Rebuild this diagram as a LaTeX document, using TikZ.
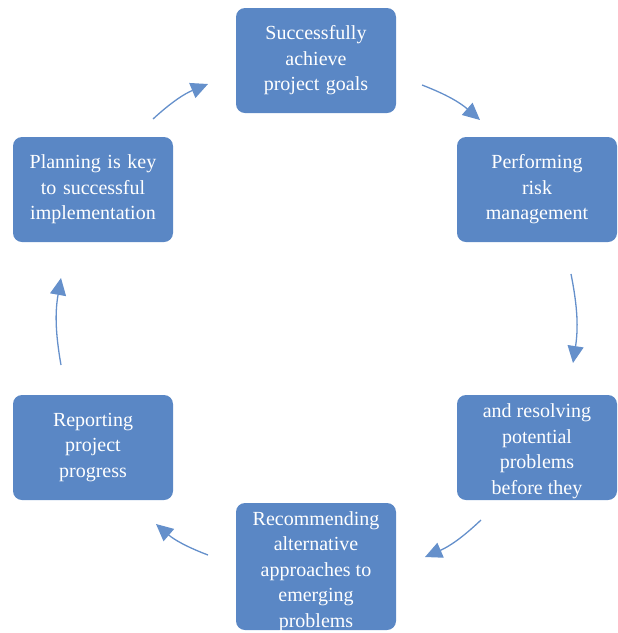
\documentclass[tikz,border=0pt]{standalone}
\usepackage{fontspec}
\setmainfont{Liberation Serif}
\usetikzlibrary{arrows.meta}
\definecolor{boxblue}{HTML}{5A87C5}
\definecolor{arrowblue}{HTML}{6590CB}
\begin{document}
\begin{tikzpicture}[x=1pt,y=-1pt,
  stage/.style={fill=boxblue, draw=none, rounded corners=9pt,
    minimum width=160pt, text width=150pt, align=center,
    text=white, inner sep=0pt,
    font=\fontsize{20}{25.5}\selectfont},
  flow/.style={draw=arrowblue, line width=1.3pt, bend left=10,
    -{Triangle[length=17pt,width=16pt]}}]
\useasboundingbox (0,0) rectangle (618,633);

% stages of the cycle
\node[stage, minimum height=105pt] (goals) at (316,60.5)
  {Successfully\\ achieve\\ project goals};
\node[stage, minimum height=105pt] (risk) at (537,189.5)
  {Performing\\ risk\\ management};
\node[stage, minimum height=105pt] (resolve) at (537,447.5) {};
\node[text=white, align=center, font=\fontsize{20}{25.5}\selectfont]
  (resolvetext) at (537,451) {and resolving\\ potential\\ problems\\ before they};
\node[stage, minimum height=127pt] (recommend) at (316,566.5) {};
\node[text=white, align=center, font=\fontsize{20}{25.5}\selectfont]
  (recommendtext) at (316,571.5)
  {Recommending\\ alternative\\ approaches to\\ emerging\\ problems};
\node[stage, minimum height=105pt] (report) at (93,447.5)
  {Reporting\\ project\\ progress};
\node[stage, minimum height=105pt] (plan) at (93,189.5)
  {Planning is key\\ to successful\\ implementation};

% arrow end points
\coordinate (a1s) at (153,119); \coordinate (a1e) at (208,84);
\coordinate (a2s) at (422,85);  \coordinate (a2e) at (480,120);
\coordinate (a3s) at (571,274); \coordinate (a3e) at (573,363);
\coordinate (a4s) at (481,520); \coordinate (a4e) at (425,557);
\coordinate (a5s) at (208,555); \coordinate (a5e) at (156,524);
\coordinate (a6s) at (61,365);  \coordinate (a6e) at (61,278);

\draw[flow] (a1s) to (a1e);
\draw[flow] (a2s) to (a2e);
\draw[flow] (a3s) to (a3e);
\draw[flow] (a4s) to (a4e);
\draw[flow] (a5s) to (a5e);
\draw[flow] (a6s) to (a6e);
\end{tikzpicture}
\end{document}
